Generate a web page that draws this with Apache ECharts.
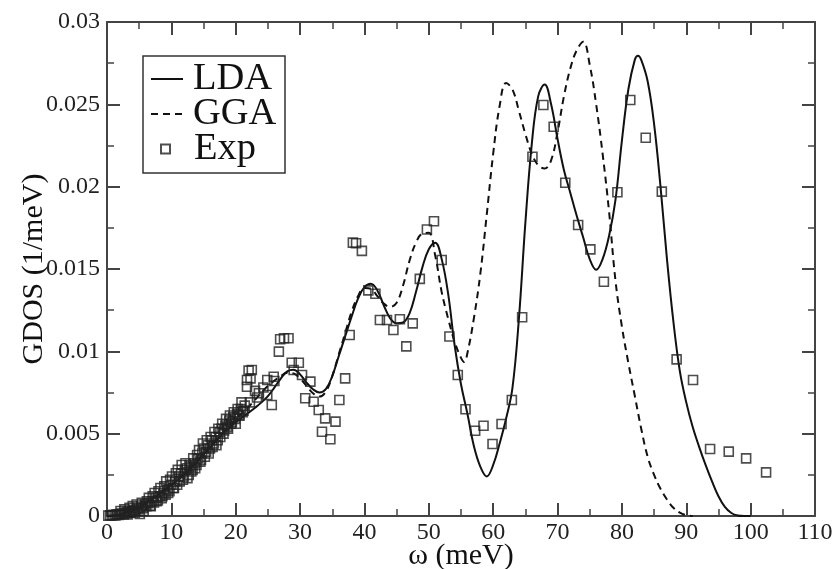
<!DOCTYPE html>
<html>
<head>
<meta charset="utf-8">
<script src="https://cdn.jsdelivr.net/npm/echarts@6/dist/echarts.min.js"></script>
<style>
  html, body { margin: 0; padding: 0; background: #fff; }
  #chart { width: 836px; height: 569px; }
</style>
</head>
<body>
<div id="chart"></div>
<script>
// Phonon generalized density of states: LDA and GGA calculations vs. experiment
const ldaEnergy = [0,1,2,3,4,5,6,7,8,9,10,11,12,13,14,15,16,17,18,19,20,21,22,23,24,25,26,27,28,29,30,31,32,33,34,35,36,37,38,39,40,41,42,43,44,45,46,47,48,49,50,51,52,53,54,55,56,57,58,59,60,61,62,63,64,65,66,67,68,69,70,71,72,73,74,75,76,77,78,79,80,81,82,82.5,83,84,85,86,87,88,89,90,91,92,93,94,95,96,97,98,99,100];
const ldaGdos = [0,0.00003,0.0001,0.00022,0.00038,0.00057,0.00079,0.00103,0.0013,0.00158,0.00187,0.00218,0.00252,0.0029,0.0033,0.00372,0.00415,0.00458,0.005,0.00538,0.0057,0.00598,0.00627,0.00657,0.0069,0.00728,0.0078,0.00835,0.00878,0.00888,0.0086,0.0081,0.0077,0.0075,0.0077,0.0085,0.0097,0.0109,0.0121,0.0132,0.0139,0.0141,0.0137,0.0128,0.012,0.0117,0.01175,0.0123,0.0136,0.0151,0.0162,0.0166,0.0156,0.0135,0.0104,0.008,0.0062,0.00425,0.003,0.0024,0.0031,0.0044,0.0059,0.0078,0.012,0.0178,0.0226,0.0255,0.0262,0.025,0.0229,0.021,0.0196,0.0182,0.0169,0.0156,0.01495,0.0156,0.017,0.0192,0.0228,0.0259,0.0277,0.02795,0.0277,0.0264,0.0238,0.02,0.0156,0.0118,0.0088,0.0069,0.0054,0.0042,0.0031,0.0021,0.0012,0.00055,0.00018,0.00003,0,0];

const ggaEnergy = [0,1,2,3,4,5,6,7,8,9,10,11,12,13,14,15,16,17,18,19,20,21,22,23,24,25,26,27,28,29,30,31,32,33,34,35,36,37,38,39,40,41,42,43,44,45,46,47,48,49,50,51,52,53,54,55,55.5,56,57,58,59,60,61,62,63,64,65,66,67,68,69,70,71,72,73,74,75,76,77,78,79,80,81,82,83,84,85,86,87,88,89,90,91];
const ggaGdos = [0,0.00003,0.0001,0.00022,0.00038,0.00058,0.0008,0.00105,0.00132,0.0016,0.0019,0.00222,0.00257,0.00295,0.00336,0.00378,0.00422,0.00466,0.00508,0.0055,0.00588,0.00622,0.00662,0.00705,0.0075,0.0079,0.00822,0.0085,0.0087,0.00865,0.00835,0.0079,0.00745,0.00725,0.00755,0.0085,0.0098,0.0111,0.0124,0.01335,0.01385,0.0138,0.01335,0.0129,0.0127,0.01295,0.014,0.0155,0.0166,0.01715,0.0172,0.0158,0.0136,0.012,0.0106,0.0096,0.00935,0.0099,0.012,0.0147,0.0183,0.022,0.0249,0.0263,0.0259,0.0246,0.0232,0.022,0.0213,0.0211,0.0216,0.0233,0.0255,0.0272,0.0283,0.0288,0.0274,0.025,0.022,0.0185,0.0143,0.0115,0.0093,0.0073,0.0053,0.0036,0.0025,0.00165,0.001,0.0005,0.0002,0.00005,0];

const expEnergy = [0.2,0.5,0.8,1.0,1.3,1.5,1.8,2.0,2.3,2.6,2.8,3.1,3.4,3.6,3.9,4.1,4.4,4.7,4.9,5.1,5.3,5.6,5.9,6.1,6.4,6.7,7.0,7.3,7.6,7.9,8.2,8.5,8.8,9.1,9.4,9.7,10.0,10.3,10.6,10.9,11.2,11.5,11.8,12.1,12.4,12.7,13.0,13.3,13.6,13.9,14.2,14.5,14.8,15.1,15.4,15.7,16.0,16.3,16.6,16.9,17.2,17.5,17.8,18.1,18.4,18.7,19.0,19.3,19.6,19.9,20.2,20.5,20.8,21.1,21.4,21.75,21.75,22.0,22.3,22.5,23.0,23.6,24.3,24.9,24.9,25.6,25.9,26.0,26.7,26.9,27.5,28.2,28.7,29.0,29.8,30.3,30.8,31.6,32.1,32.9,33.4,33.9,34.7,35.5,36.1,37.0,37.7,38.2,38.7,39.6,40.6,41.7,42.4,43.5,44.5,45.5,46.5,47.5,48.6,49.7,50.8,52.0,53.2,54.5,55.7,57.2,58.5,59.9,61.3,62.9,64.5,66.1,67.8,69.4,71.2,73.2,75.1,77.2,79.3,81.3,83.7,86.2,88.5,91.05,93.7,96.6,99.3,102.4,
  2.1,2.7,3.2,3.5,4.0,4.3,4.6,5.4,5.7,6.2,6.5,6.8,7.1,7.4,7.7,8.0,8.3,8.6,8.9,9.2,9.5,9.8,10.1,10.4,10.7,11.0,11.3,11.6,11.9,12.2,12.5,12.8,13.1,13.4,13.7,14.0,14.3,14.6,14.9,15.2,15.5,15.8,16.1,16.4,16.7,17.0,17.3,17.6,17.9,18.2,18.5,18.8,19.1,19.4,19.7,20.0,20.3,20.6,20.9,21.2,22.2,23.3];
const expGdos = [0.00002,0.00005,0.00003,0.00008,0.00004,0.0001,0.00006,0.00012,0.00015,0.0001,0.0002,0.00025,0.00018,0.0003,0.00028,0.00038,0.0003,0.0005,0.00042,0.00012,0.00058,0.00048,0.0007,0.0006,0.00078,0.00062,0.0009,0.00082,0.0011,0.00095,0.0012,0.00108,0.0014,0.0013,0.0016,0.0015,0.0019,0.0017,0.0021,0.0019,0.0024,0.0026,0.0022,0.0028,0.0029,0.0025,0.003,0.0028,0.0032,0.0031,0.0035,0.0033,0.0038,0.0041,0.0039,0.0043,0.0041,0.0046,0.0044,0.0048,0.0046,0.0051,0.0053,0.005,0.0055,0.0054,0.0058,0.0056,0.006,0.0059,0.0062,0.0061,0.0065,0.0063,0.0067,0.00785,0.00826,0.00883,0.00836,0.00887,0.0076,0.00745,0.0078,0.00735,0.00826,0.00674,0.00846,0.0082,0.00998,0.01073,0.01079,0.01079,0.00931,0.00887,0.00931,0.00856,0.00715,0.00816,0.00694,0.00644,0.00512,0.00593,0.00466,0.00573,0.00704,0.00836,0.01099,0.0166,0.01656,0.0161,0.0137,0.0135,0.0119,0.0119,0.0113,0.01195,0.0103,0.0117,0.0144,0.0174,0.0179,0.01555,0.0109,0.00856,0.00648,0.00518,0.00548,0.00437,0.00559,0.00704,0.01207,0.02182,0.02496,0.02364,0.02024,0.01767,0.01619,0.01423,0.01966,0.02526,0.02297,0.0197,0.00951,0.00826,0.00407,0.00391,0.0035,0.00265,
  0.0003,0.0004,0.0001,0.0005,0.0006,0.0002,0.0007,0.0008,0.0003,0.0009,0.0011,0.0006,0.0012,0.0014,0.0009,0.0015,0.0017,0.0012,0.0018,0.0021,0.0014,0.0022,0.0024,0.0017,0.0026,0.0028,0.0021,0.0031,0.0024,0.0032,0.0023,0.0031,0.0027,0.0035,0.0029,0.0037,0.004,0.0034,0.0044,0.0036,0.0046,0.0038,0.0048,0.0042,0.0051,0.0043,0.0053,0.0048,0.0056,0.0052,0.0059,0.0053,0.0061,0.0057,0.0063,0.0056,0.0065,0.0061,0.0069,0.0064,0.0069,0.0072];

const legendNames = ['LDA', 'GGA', 'Exp'];
const xTicks = { min: 0, max: 110, interval: 10 };
const yTicks = { min: 0, max: 0.03, interval: 0.005 };

const pairs = (xs, ys) => xs.map((x, i) => [x, ys[i]]);

const serif = 'Liberation Serif';
const frame = '#444';
const ink = '#111';

function axisBase(extra) {
  return Object.assign({
    type: 'value',
    axisLine: { show: true, onZero: false, lineStyle: { color: frame, width: 2 } },
    axisTick: { show: true, inside: true, length: 13, lineStyle: { color: frame, width: 2 } },
    minorTick: { show: true, splitNumber: 2, length: 7, lineStyle: { color: frame, width: 1.5 } },
    splitLine: { show: false },
    minorSplitLine: { show: false }
  }, extra);
}

const legendText = { fontFamily: serif, fontSize: 38.5, color: ink, lineHeight: 35 };

// one legend block per entry so each row sits at its own height
function legendRow(name, left, top, iconWidth, textPad) {
  return {
    orient: 'vertical', left: left, top: top, padding: 0,
    itemGap: 0, itemWidth: iconWidth, itemHeight: 9,
    textStyle: Object.assign({ padding: [0, 0, 0, textPad] }, legendText),
    data: [name]
  };
}

const chart = echarts.init(document.getElementById('chart'), null, { renderer: 'canvas' });
chart.setOption({
  backgroundColor: '#fff',
  animation: false,
  grid: { left: 107, right: 21, top: 22, bottom: 53, outerBoundsMode: 'none', containLabel: false },
  // legend frame
  graphic: [{
    type: 'rect', z: 10,
    shape: { x: 143, y: 56, width: 142, height: 117 },
    style: { fill: 'rgba(0,0,0,0)', stroke: '#333', lineWidth: 1.5 }
  }],
  legend: [
    legendRow(legendNames[0], 150, 59.5, 32, 5),
    legendRow(legendNames[1], 150, 94.5, 32, 5),
    legendRow(legendNames[2], 160, 129.5, 9, 19)
  ],
  xAxis: [
    axisBase(Object.assign({
      position: 'bottom',
      name: 'ω (meV)',
      nameLocation: 'middle',
      nameGap: 25,
      nameMoveOverlap: false,
      nameTextStyle: { fontFamily: serif, fontSize: 30, color: ink },
      axisLabel: { fontFamily: serif, fontSize: 24, color: '#222', margin: 5 }
    }, xTicks)),
    axisBase(Object.assign({ position: 'top', axisLabel: { show: false } }, xTicks))
  ],
  yAxis: [
    axisBase(Object.assign({
      position: 'left',
      name: 'GDOS (1/meV)',
      nameLocation: 'middle',
      nameGap: 58,
      nameMoveOverlap: false,
      nameTextStyle: { fontFamily: serif, fontSize: 30, color: ink },
      axisLabel: {
        fontFamily: serif, fontSize: 24, color: '#222', margin: 7,
        formatter: v => (v === 0 ? '0' : String(+v.toFixed(4)))
      }
    }, yTicks)),
    axisBase(Object.assign({ position: 'right', axisLabel: { show: false } }, yTicks))
  ],
  series: [
    {
      name: legendNames[0], type: 'line', xAxisIndex: 0, yAxisIndex: 0,
      data: pairs(ldaEnergy, ldaGdos),
      showSymbol: false, symbol: 'none', smooth: 0.4,
      lineStyle: { color: ink, width: 2 },
      itemStyle: { color: 'rgba(0,0,0,0)' },
      z: 3
    },
    {
      name: legendNames[1], type: 'line', xAxisIndex: 0, yAxisIndex: 0,
      data: pairs(ggaEnergy, ggaGdos),
      showSymbol: false, symbol: 'none', smooth: 0.4,
      lineStyle: { color: ink, width: 2, type: [7, 5] },
      itemStyle: { color: 'rgba(0,0,0,0)' },
      z: 3
    },
    {
      name: legendNames[2], type: 'scatter', xAxisIndex: 0, yAxisIndex: 0,
      data: pairs(expEnergy, expGdos),
      symbol: 'rect', symbolSize: 9,
      itemStyle: { color: 'rgba(0,0,0,0)', borderColor: '#222', borderWidth: 1.6 },
      z: 4
    }
  ]
});
</script>
</body>
</html>
